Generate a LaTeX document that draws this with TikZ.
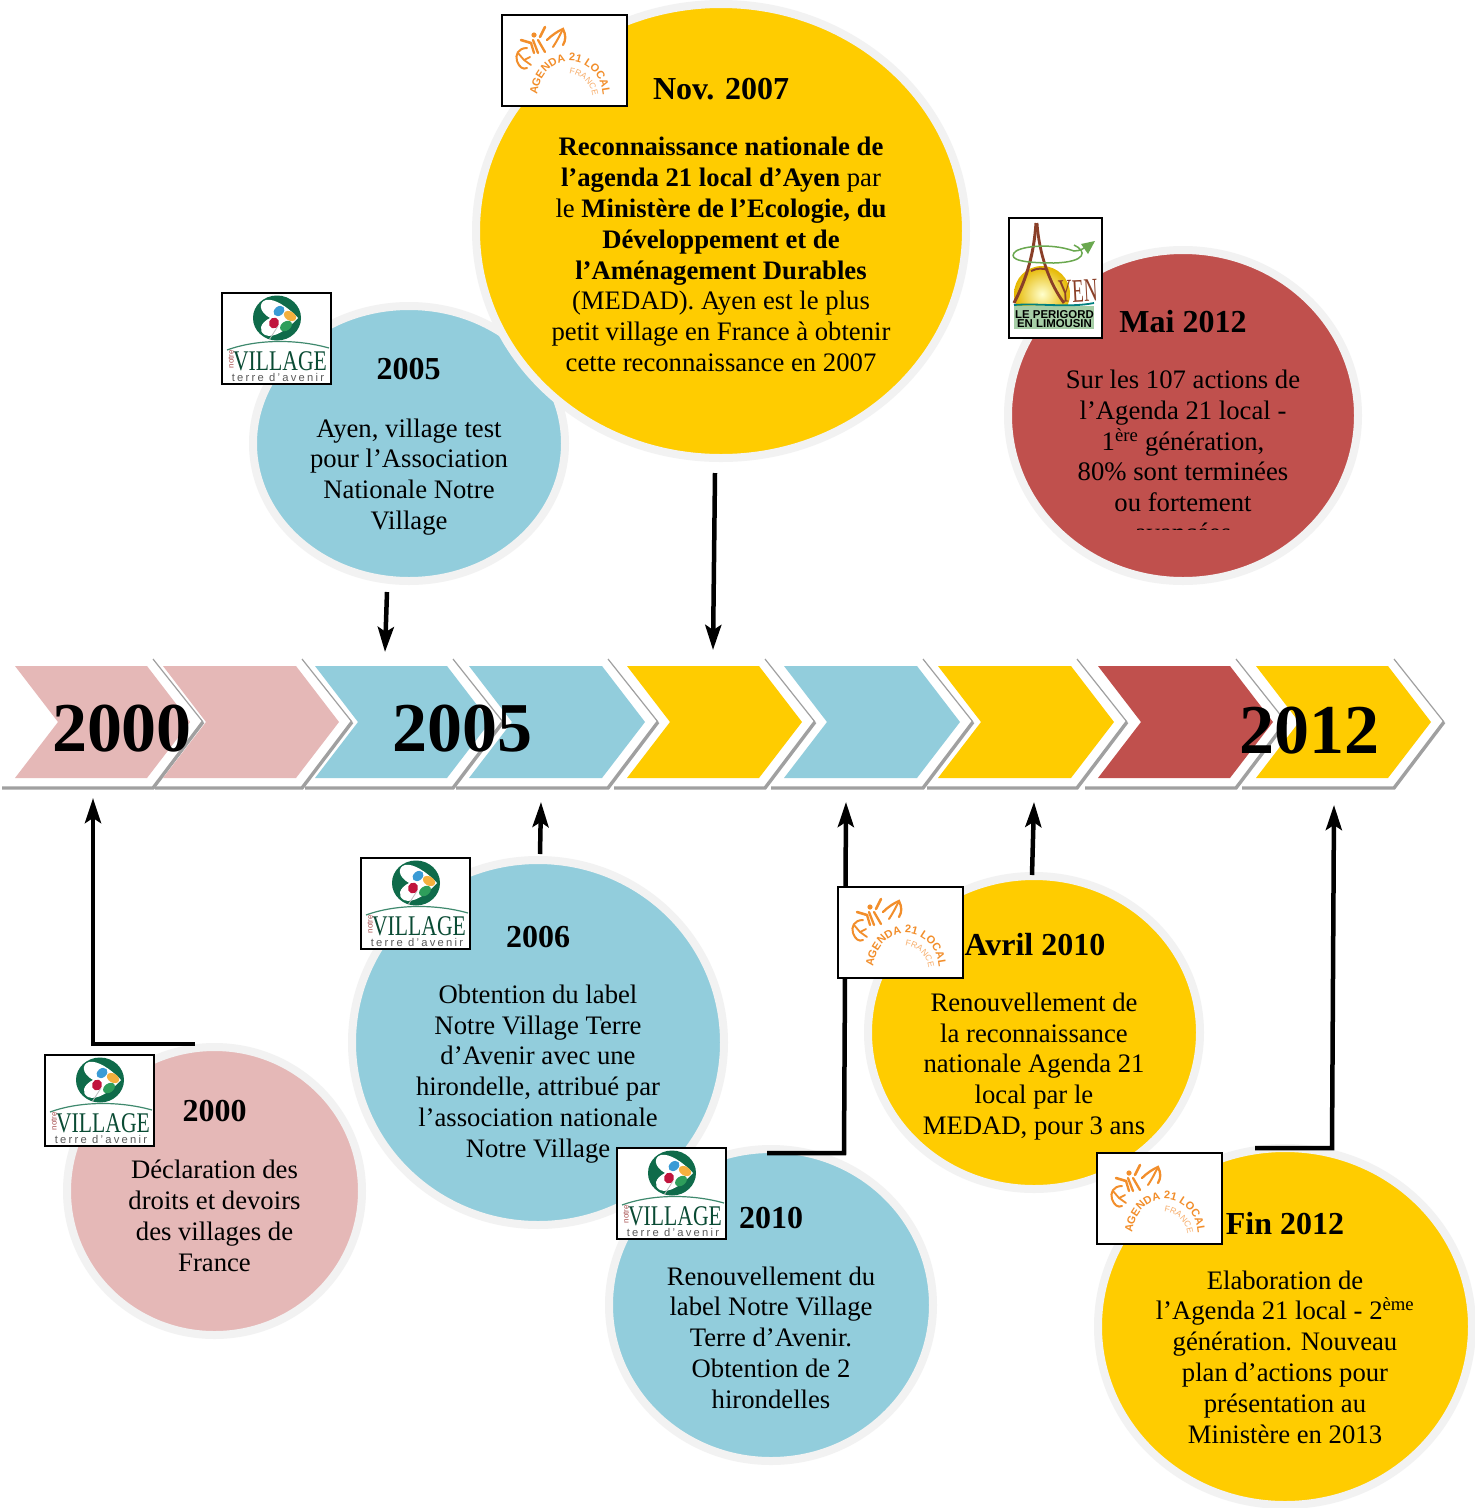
\documentclass[tikz,border=0pt]{standalone}
\usepackage{fontspec}
\setmainfont{Liberation Serif}
\newfontfamily\lgsans{Liberation Sans}
\newfontfamily\lgspaced[LetterSpace=20]{Liberation Sans}
\usetikzlibrary{shapes.geometric,arrows.meta,decorations.text}
\definecolor{pinkc}{HTML}{E5B8B7}
\definecolor{bluec}{HTML}{92CDDC}
\definecolor{yellowc}{HTML}{FFCC00}
\definecolor{redc}{HTML}{C0504D}
\definecolor{haloc}{HTML}{F2F2F2}
\definecolor{shadc}{HTML}{A0A0A0}
\definecolor{nvgreen}{HTML}{0F6B4A}
\definecolor{agor}{HTML}{F28E2B}
\definecolor{agorl}{HTML}{F7AE6C}
\definecolor{ayb}{HTML}{8A3F28}
\definecolor{ayg}{HTML}{6AA84F}
\definecolor{ptb}{HTML}{3A9BD5}
\definecolor{pto}{HTML}{F4B03E}
\definecolor{ptr}{HTML}{C0143C}
\definecolor{ptg}{HTML}{2E9E5B}
\tikzset{
  bubble/.style n args={3}{ellipse,minimum width=#1pt,minimum height=#2pt,fill=#3,draw=haloc,line width=8pt,inner sep=0pt,outer sep=0pt},
  body/.style={align=center,inner sep=0pt,font=\fontsize{26.7}{30.8}\selectfont},
  headline/.style={inner sep=0pt,font=\fontsize{32}{34}\selectfont\bfseries},
  yearlabel/.style={inner sep=0pt,font=\fontsize{70}{72}\selectfont\bfseries},
  flow/.style={line width=4.5pt,miter limit=10,-{Stealth[length=25pt,width=16pt,inset=5pt]}},
  logobox/.style={draw=black,fill=white,line width=1.8pt,anchor=north west,inner sep=0pt,outer sep=0pt},
  agstroke/.style={draw=agor,line cap=round,line width=2.3pt},
}
% Notre Village logo: #1 origin, #2 node name
\newcommand{\nvlogo}[2]{%
\begin{scope}[shift={#1}]
\node[logobox,minimum width=109pt,minimum height=91pt] (#2) at (0,0) {};
\fill[nvgreen] (55,25) ellipse (24 and 22.5);
\fill[white] (76,25) .. controls (66,14) and (52,5) .. (44,7) .. controls (37,9) and (36,18) .. (48,25) .. controls (38,30) and (36,38) .. (43,42) .. controls (52,46) and (66,36) .. (76,25) -- cycle;
\draw[black!25,line width=.8pt] (56,33) -- (47,47);
\fill[ptb,rotate around={40:(57,18)}] (57,18) ellipse (6 and 4.5);
\fill[pto,rotate around={-30:(68,23)}] (68,23) ellipse (6.5 and 4.5);
\fill[ptr,rotate around={-20:(52,30)}] (52,30) ellipse (5 and 5.5);
\fill[ptg,rotate around={35:(64,33)}] (64,33) ellipse (6.5 and 4.5);
\draw[nvgreen!80,line width=1.2pt] (5,57) .. controls (35,46) and (75,46) .. (107,55);
\node[inner sep=0pt,xscale=.76,text=nvgreen!70!black,font=\fontsize{28.5}{28}\selectfont] (#2v) at (58,68) {VILLAGE};
\node[inner sep=0pt,rotate=90,text=red!50!black!70,font=\lgsans\fontsize{8}{8}\selectfont] (#2n) at (9,66) {notre};
\node[inner sep=0pt,text=black!65,font=\lgspaced\fontsize{11.2}{11}\selectfont] (#2t) at (56,84) {terre d’avenir};
\end{scope}}
% Agenda 21 logo
\newcommand{\aglogo}[2]{%
\begin{scope}[shift={#1}]
\node[logobox,minimum width=125pt,minimum height=91pt] (#2) at (0,0) {};
\draw[agstroke,line width=2pt] (25,33) .. controls (16,33) and (13,40) .. (15,46) .. controls (17,52) and (21,55) .. (25,53);
\draw[agstroke,line width=1.8pt] (22,45) -- (16,38) (22,45) -- (28,42) (22,45) -- (29,50);
\fill[agor] (32,20) circle (2.6);
\draw[agstroke,line width=2.6pt] (19,25) -- (29,28);
\draw[agstroke,line width=2.6pt] (38,22) -- (43,12);
\draw[agstroke] (31,25) -- (36,38) (36,25) -- (43,37) (29,28) -- (32,38);
\draw[agstroke] (45,25) .. controls (50,20) and (56,16) .. (61,14) .. controls (64,20) and (64,25) .. (61,30);
\draw[agstroke,line width=2pt] (61,14) .. controls (58,20) and (55,26) .. (51,32);
\path[decorate,decoration={text along path,text align=center,text color=agor,
  text format delimiters={|}{|},
  text={|\lgsans\bfseries\fontsize{11}{11}\selectfont|AGENDA 21 LOCAL}}]
  (35,84) .. controls (35,62) and (50,46) .. (68,46) .. controls (86,46) and (101,62) .. (101,84);
\path[decorate,decoration={text along path,text align=center,text color=agorl,
  text format delimiters={|}{|},
  text={|\lgsans\fontsize{8.5}{8.5}\selectfont|FRANCE}}]
  (62,58) .. controls (78,58) and (91,68) .. (91,86);
\end{scope}}
\begin{document}
\begin{tikzpicture}[x=1pt,y=-1pt]
\useasboundingbox[fill=white] (0,0) rectangle (1475,1508);
% chevrons
\foreach \xa/\xb/\col/\st in {15/147/pinkc/2,163/296/pinkc/155,315/447/bluec/305,469/602/bluec/456,627/759/yellowc/614,784/917/bluec/771,938/1071/yellowc/927,1098/1230/redc/1085,1256/1388/yellowc/1242}{
  \draw[shadc,line width=1.2pt] (\xb+6,659) -- (\xb+56,722);
  \draw[shadc,line width=3.4pt,line join=miter] (\xb+56,722) -- (\xb+6,788) -- (\st,788);
  \fill[\col] (\xa,666) -- (\xb,666) -- (\xb+43,722) -- (\xb,778) -- (\xa,778) -- (\xa+43,722) -- cycle;
}
% bubbles
\node[bubble={312}{275}{bluec}] (b2005) at (409,443.5) {};
\node[bubble={490}{454}{yellowc}] (b2007) at (721,231) {};
\node[bubble={350}{331}{redc}] (b2012a) at (1183,415.5) {};
\node[bubble={295}{288}{pinkc}] (b2000) at (214.5,1191) {};
\node[bubble={372}{365}{bluec}] (b2006) at (538,1042.5) {};
\node[bubble={332}{313}{yellowc}] (b2010a) at (1034,1032.5) {};
\node[bubble={324}{312}{bluec}] (b2010) at (771,1305) {};
\node[bubble={374}{357}{yellowc}] (b2012b) at (1285,1326.5) {};
% connectors
\coordinate (s1) at (195,1044); \coordinate (m1) at (93,1044); \coordinate (t1) at (93,798);
\coordinate (s2) at (387,592); \coordinate (t2) at (385,652);
\coordinate (s3) at (715,473); \coordinate (t3) at (713,650);
\coordinate (s4) at (540,854); \coordinate (t4) at (541,802);
\coordinate (s5) at (767,1153); \coordinate (m5) at (844,1153); \coordinate (t5) at (846,802);
\coordinate (s6) at (1032,875); \coordinate (t6) at (1034,802);
\coordinate (s7) at (1255,1148); \coordinate (m7) at (1332,1148); \coordinate (t7) at (1334,805);
\draw[flow] (s1) -- (m1) -- (t1);
\draw[flow] (s2) -- (t2);
\draw[flow] (s3) -- (t3);
\draw[flow] (s4) -- (t4);
\draw[flow] (s5) -- (m5) -- (t5);
\draw[flow] (s6) -- (t6);
\draw[flow] (s7) -- (m7) -- (t7);
% logos
\nvlogo{(222,293)}{nva}
\nvlogo{(361,858)}{nvb}
\nvlogo{(45,1055)}{nvc}
\nvlogo{(617,1148)}{nvd}
\aglogo{(502,15)}{aga}
\aglogo{(838,887)}{agb}
\aglogo{(1097,1153)}{agc}
% Ayen logo
\begin{scope}[shift={(1009,218)}]
\node[logobox,minimum width=93pt,minimum height=120pt] (ayen) at (0,0) {};
\begin{scope}
\clip (3,40) rectangle (90,88);
\shade[inner color=yellow!20!white,outer color=yellow!60!orange!90!black] (33,76) circle (28);
\end{scope}
\draw[ayb,line width=3pt] (27,5) .. controls (25,35) and (18,60) .. (5,85);
\draw[ayb,line width=2.8pt] (28,5) .. controls (30,35) and (40,65) .. (55,85);
\draw[ayb,line width=2pt] (22,53) .. controls (28,50) and (34,50) .. (39,52);
\draw[ayg,line width=1.5pt] (65,27) .. controls (78,33) and (78,44) .. (45,45) .. controls (15,45) and (0,42) .. (5,35) .. controls (8,29) and (40,24) .. (65,33) .. controls (72,33) and (76,30) .. (79,26);
\fill[ayg] (86,23) -- (72,26) -- (79,36) -- cycle;
\node[inner sep=0pt,text=ayb,rotate=3,xscale=.58,font=\fontsize{33}{33}\selectfont] (ayent) at (69,73) {YEN};
\fill[green!45!black!35!white] (5,88) rectangle (85,111);
\draw[teal,line width=1.8pt] (5,87) .. controls (30,85) and (60,90) .. (85,85);
\node[inner sep=0pt,align=center,font=\lgsans\bfseries\fontsize{11.4}{9.5}\selectfont] (ayenl) at (45.5,101) {LE PERIGORD\\EN LIMOUSIN};
\end{scope}
% year labels
\node[yearlabel] (y2000) at (122,729) {2000};
\node[yearlabel] (y2005) at (462.5,729) {2005};
\node[yearlabel] (y2012) at (1309,731) {2012};
% texts
\node[headline] (h1) at (408.5,369.5) {2005};
\node[body] at (409,477) {Ayen, village test\\pour l’Association\\Nationale Notre\\Village};
\node[headline] (h2) at (721,89.5) {Nov. 2007};
\node[body] at (721,254.5) {\textbf{Reconnaissance nationale de}\\\textbf{l’agenda 21 local d’Ayen} par\\le \textbf{Ministère de l’Ecologie, du}\\\textbf{Développement et de}\\\textbf{l’Aménagement Durables}\\(MEDAD). Ayen est le plus\\petit village en France à obtenir\\cette reconnaissance en 2007};
\node[headline] (h3) at (1183,321.5) {Mai 2012};
\node[body] at (1183,441) {Sur les 107 actions de\\l’Agenda 21 local -\\1\textsuperscript{ère} génération,\\80\% sont terminées\\ou fortement};
\begin{scope}
\clip (1100,500) rectangle (1270,529);
\node[body,anchor=base] at (1183,541.3) {avancées};
\end{scope}
\node[headline] (h4) at (214.5,1111.5) {2000};
\node[body] at (214.5,1216) {Déclaration des\\droits et devoirs\\des villages de\\France};
\node[headline] (h5) at (538,937.5) {2006};
\node[body] at (538,1074) {Obtention du label\\Notre Village Terre\\d’Avenir avec une\\hirondelle, attribué par\\l’association nationale\\Notre Village};
\node[headline] (h6) at (771,1217.5) {2010};
\node[body] at (771,1337.5) {Renouvellement du\\label Notre Village\\Terre d’Avenir.\\Obtention de 2\\hirondelles};
\node[headline] (h7) at (1035,944.5) {Avril 2010};
\node[body] at (1034,1066.5) {Renouvellement de\\la reconnaissance\\nationale Agenda 21\\local par le\\MEDAD, pour 3 ans};
\node[headline] (h8) at (1285,1223.5) {Fin 2012};
\node[body] at (1285,1357) {Elaboration de\\l’Agenda 21 local - 2\textsuperscript{ème}\\génération. Nouveau\\plan d’actions pour\\présentation au\\Ministère en 2013};
\end{tikzpicture}
\end{document}
